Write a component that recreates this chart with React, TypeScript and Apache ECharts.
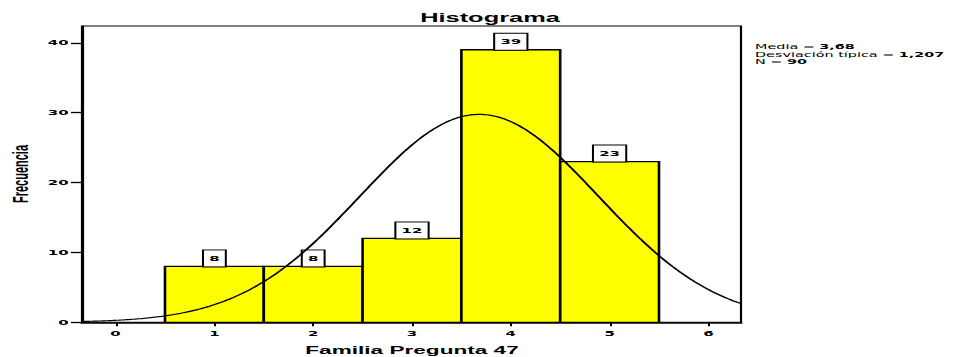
import React, { useEffect, useRef } from "react";
import * as echarts from "echarts";

// Histogram bins (centre of each bin) and their counts
const binCenters = [1, 2, 3, 4, 5];
const frequencies = [8, 8, 12, 39, 23];
const binWidth = 1;

// Summary statistics shown in the legend and used for the normal curve
const mean = 3.68;
const stdDev = 1.207;
const sampleSize = 90;
const meanText = "3,68";
const stdDevText = "1,207";
const sampleSizeText = "90";

// Axis ticks
const xTicks = [0, 1, 2, 3, 4, 5, 6];
const yTicks = [0, 10, 20, 30, 40];
const xRange = [-0.34, 6.33];
const yRange = [0, 42.4];

const FONT = '"Liberation Sans", Arial, Helvetica, sans-serif';
const WIDE = '"DejaVu Sans", Verdana, sans-serif';

// Normal density scaled to counts (N * bin width * pdf)
function normalCurve(): number[][] {
  const pts: number[][] = [];
  const steps = 300;
  for (let i = 0; i <= steps; i++) {
    const x = xRange[0] + ((xRange[1] - xRange[0]) * i) / steps;
    const z = (x - mean) / stdDev;
    const y =
      (sampleSize * binWidth * Math.exp(-0.5 * z * z)) /
      (stdDev * Math.sqrt(2 * Math.PI));
    pts.push([x, y]);
  }
  return pts;
}

export default function App() {
  const ref = useRef<HTMLDivElement>(null);

  useEffect(() => {
    if (!ref.current) return;
    const chart = echarts.init(ref.current, undefined, { renderer: "svg" });

    const barData = binCenters.map((c, i) => [c, frequencies[i]]);

    chart.setOption({
      animation: false,
      backgroundColor: "#ffffff",
      grid: {
        left: 41,
        right: 106.5,
        top: 26,
        bottom: 34.7,
        show: true,
        borderColor: "#000",
        borderWidth: 1.1,
        backgroundColor: "transparent",
      },
      xAxis: {
        type: "value",
        min: xRange[0],
        max: xRange[1],
        splitLine: { show: false },
        axisLine: { show: true, onZero: false, lineStyle: { color: "#000", width: 1.7 } },
        axisTick: {
          show: true,
          customValues: xTicks,
          length: 4,
          lineStyle: { color: "#000", width: 1 },
        },
        axisLabel: {
          customValues: xTicks,
          margin: 7.5,
          color: "#000",
          fontFamily: WIDE,
          fontWeight: "bold",
          fontSize: 7.5,
        },
      },
      yAxis: {
        type: "value",
        min: yRange[0],
        max: yRange[1],
        splitLine: { show: false },
        axisLine: { show: true, onZero: false, lineStyle: { color: "#000", width: 1.1 } },
        axisTick: {
          show: true,
          customValues: yTicks,
          length: 5.5,
          lineStyle: { color: "#000", width: 1.3 },
        },
        axisLabel: {
          customValues: yTicks,
          margin: 6.7,
          color: "#000",
          fontFamily: WIDE,
          fontWeight: "bold",
          fontSize: 7.5,
          padding: [2, 0, 0, 0],
        },
      },
      graphic: [
        {
          type: "text",
          x: 245,
          y: 17.3,
          style: {
            text: "Histograma",
            align: "center",
            verticalAlign: "middle",
            font: `bold 12.7px ${FONT}`,
            fill: "#000",
          },
        },
        {
          type: "text",
          x: 206,
          y: 350.5,
          style: {
            text: "Familia Pregunta 47",
            align: "center",
            verticalAlign: "middle",
            font: `bold 11.3px ${FONT}`,
            lineHeight: 11.3,
            fill: "#000",
          },
        },
        {
          type: "text",
          x: 10,
          y: 174,
          rotation: Math.PI / 2,
          style: {
            text: "Frecuencia",
            align: "center",
            verticalAlign: "middle",
            font: `bold 11px ${FONT}`,
            fill: "#000",
          },
        },
        {
          type: "text",
          x: 377.5,
          y: 43.3,
          style: {
            text:
              `{r|Media = }{b|${meanText}}\n` +
              `{r|Desviación típica = }{b|${stdDevText}}\n` +
              `{r|N = }{b|${sampleSizeText}}`,
            align: "left",
            verticalAlign: "top",
            fill: "#000",
            rich: {
              r: { font: `7.2px ${WIDE}`, lineHeight: 7.3, fill: "#000" },
              b: { font: `bold 7.2px ${WIDE}`, lineHeight: 7.3, fill: "#000" },
            },
          },
        },
      ],
      series: [
        {
          type: "custom",
          z: 2,
          data: barData,
          renderItem: (params: any, api: any) => {
            const c = api.value(0);
            const f = api.value(1);
            const topLeft = api.coord([c - binWidth / 2, f]);
            const bottomRight = api.coord([c + binWidth / 2, 0]);
            return {
              type: "group",
              children: [
                {
                  type: "rect",
                  shape: {
                    x: topLeft[0],
                    y: topLeft[1],
                    width: bottomRight[0] - topLeft[0],
                    height: bottomRight[1] - topLeft[1],
                  },
                  style: { fill: "#FFFF00", stroke: "#000", lineWidth: 1.3 },
                },
                {
                  type: "text",
                  x: (topLeft[0] + bottomRight[0]) / 2,
                  y: topLeft[1],
                  z2: 10,
                  style: {
                    text: String(f),
                    align: "center",
                    verticalAlign: "bottom",
                    font: `bold 7.5px ${WIDE}`,
                    lineHeight: 9,
                    fill: "#000",
                    backgroundColor: "#fff",
                    borderColor: "#000",
                    borderWidth: 1,
                    padding: [3.5, 2.6, 3.5, 2.6],
                  },
                },
              ],
            };
          },
        },
        {
          type: "line",
          z: 3,
          data: normalCurve(),
          showSymbol: false,
          symbol: "none",
          smooth: false,
          silent: true,
          lineStyle: { color: "#000", width: 1.2 },
        },
      ],
    });

    return () => chart.dispose();
  }, []);

  return (
    <div
      ref={ref}
      style={{
        position: "absolute",
        left: 0,
        top: 0,
        width: 477,
        height: 357,
        transform: "scaleX(2)",
        transformOrigin: "0 0",
      }}
    />
  );
}
